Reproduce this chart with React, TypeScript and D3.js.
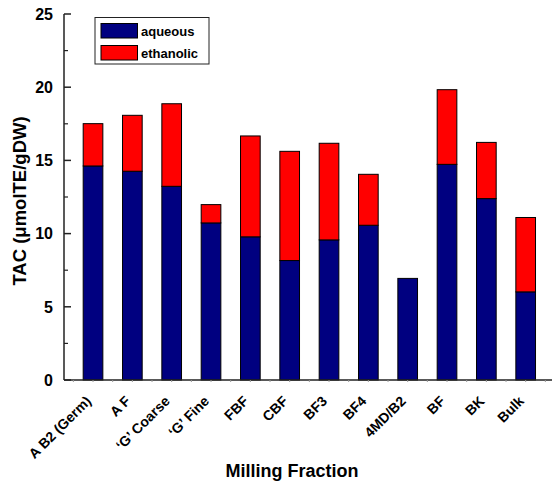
import * as d3 from "d3";
import React from "react";

const fractions = ["A B2 (Germ)", "A F", "\u2018G\u2019 Coarse", "\u2018G\u2019 Fine", "FBF", "CBF", "BF3", "BF4", "4MD/B2", "BF", "BK", "Bulk"];
const aqueous = [14.62, 14.26, 13.23, 10.73, 9.78, 8.16, 9.57, 10.57, 6.94, 14.73, 12.39, 6.02];
const ethanolic = [2.89, 3.82, 5.64, 1.25, 6.89, 7.46, 6.6, 3.48, 0, 5.1, 3.84, 5.08];
const yTicks = [0, 5, 10, 15, 20, 25];
const seriesNames = ["aqueous", "ethanolic"];
const seriesColors = ["#000080", "#ff0000"];

const W = 552;
const H = 488;
const margin = { left: 64, top: 14, bottom: 380 };
const font = "Arial, 'Liberation Sans', sans-serif";

export default function App() {
  const y = d3.scaleLinear().domain([0, 25]).range([margin.bottom, margin.top]);
  const x = d3.scaleBand<string>().domain(fractions).range([73.35, 545.35]).paddingInner(0.5).paddingOuter(0.25);

  const rows = fractions.map((f, i) => ({ f, aqueous: aqueous[i], ethanolic: ethanolic[i] }));
  const stack = d3.stack<any>().keys(seriesNames)(rows);

  const minor = d3.range(0, 25.01, 2.5).filter((v) => v % 5 !== 0);
  const step = x.step();
  const xSmallTicks = d3.range(0, fractions.length * 2 + 1).map((k) => (x(fractions[0]) as number) + x.bandwidth() / 2 - step / 2 + (k * step) / 2);

  return (
    <svg width={W} height={H} style={{ display: "block", position: "absolute", left: 0, top: 0 }}>
      <rect width={W} height={H} fill="#fff" />
      {stack.map((s, si) => (
        <g key={s.key}>
          {s.map((d, i) =>
            d[1] - d[0] > 0 ? (
              <rect
                key={i}
                x={x(fractions[i])}
                y={y(d[1])}
                width={x.bandwidth()}
                height={y(d[0]) - y(d[1])}
                fill={seriesColors[si]}
                stroke="#000"
                strokeWidth={1}
              />
            ) : null
          )}
        </g>
      ))}

      {/* y axis */}
      <line x1={margin.left} x2={margin.left} y1={y(25)} y2={y(0)} stroke="#222" strokeWidth={1.5} />
      {yTicks.map((t) => (
        <g key={t}>
          <line x1={margin.left} x2={margin.left + 7} y1={y(t)} y2={y(t)} stroke="#222" strokeWidth={1.5} />
          <text x={margin.left - 11} y={y(t)} dy="0.36em" textAnchor="end" fontFamily={font} fontWeight="bold" fontSize={16}>
            {t}
          </text>
        </g>
      ))}
      {minor.map((t) => (
        <line key={t} x1={margin.left} x2={margin.left + 4} y1={y(t)} y2={y(t)} stroke="#222" strokeWidth={1.2} />
      ))}

      {/* x axis */}
      <line x1={margin.left} x2={W} y1={y(0)} y2={y(0)} stroke="#222" strokeWidth={1.5} />
      {xSmallTicks.map((t, i) => (
        <line key={i} x1={t} x2={t} y1={y(0)} y2={y(0) + 2} stroke="#999" strokeWidth={1} />
      ))}
      {fractions.map((f) => {
        const cx = (x(f) as number) + x.bandwidth() / 2;
        return (
          <text
            key={f}
            transform={`translate(${cx - 1},${402}) rotate(-45)`}
            textAnchor="end"
            fontFamily={font}
            fontWeight="bold"
            fontSize={14}
          >
            {f}
          </text>
        );
      })}
      <text x={292} y={477} textAnchor="middle" fontFamily={font} fontWeight="bold" fontSize={18}>
        Milling Fraction
      </text>
      <text transform={`translate(25.5,${201}) rotate(-90)`} textAnchor="middle" fontFamily={font} fontWeight="bold" fontSize={18.5}>
        TAC (μmolTE/gDW)
      </text>

      {/* legend */}
      <rect x={95} y={17.5} width={114} height={46.5} fill="#fff" stroke="#222" strokeWidth={1} />
      {seriesNames.map((n, i) => (
        <g key={n} transform={`translate(101,${23.5 + i * 22})`}>
          <rect width={36.5} height={14.5} fill={seriesColors[i]} stroke="#000" strokeWidth={1} />
          <text x={40} y={12} fontFamily={font} fontWeight="bold" fontSize={13}>
            {n}
          </text>
        </g>
      ))}
    </svg>
  );
}
